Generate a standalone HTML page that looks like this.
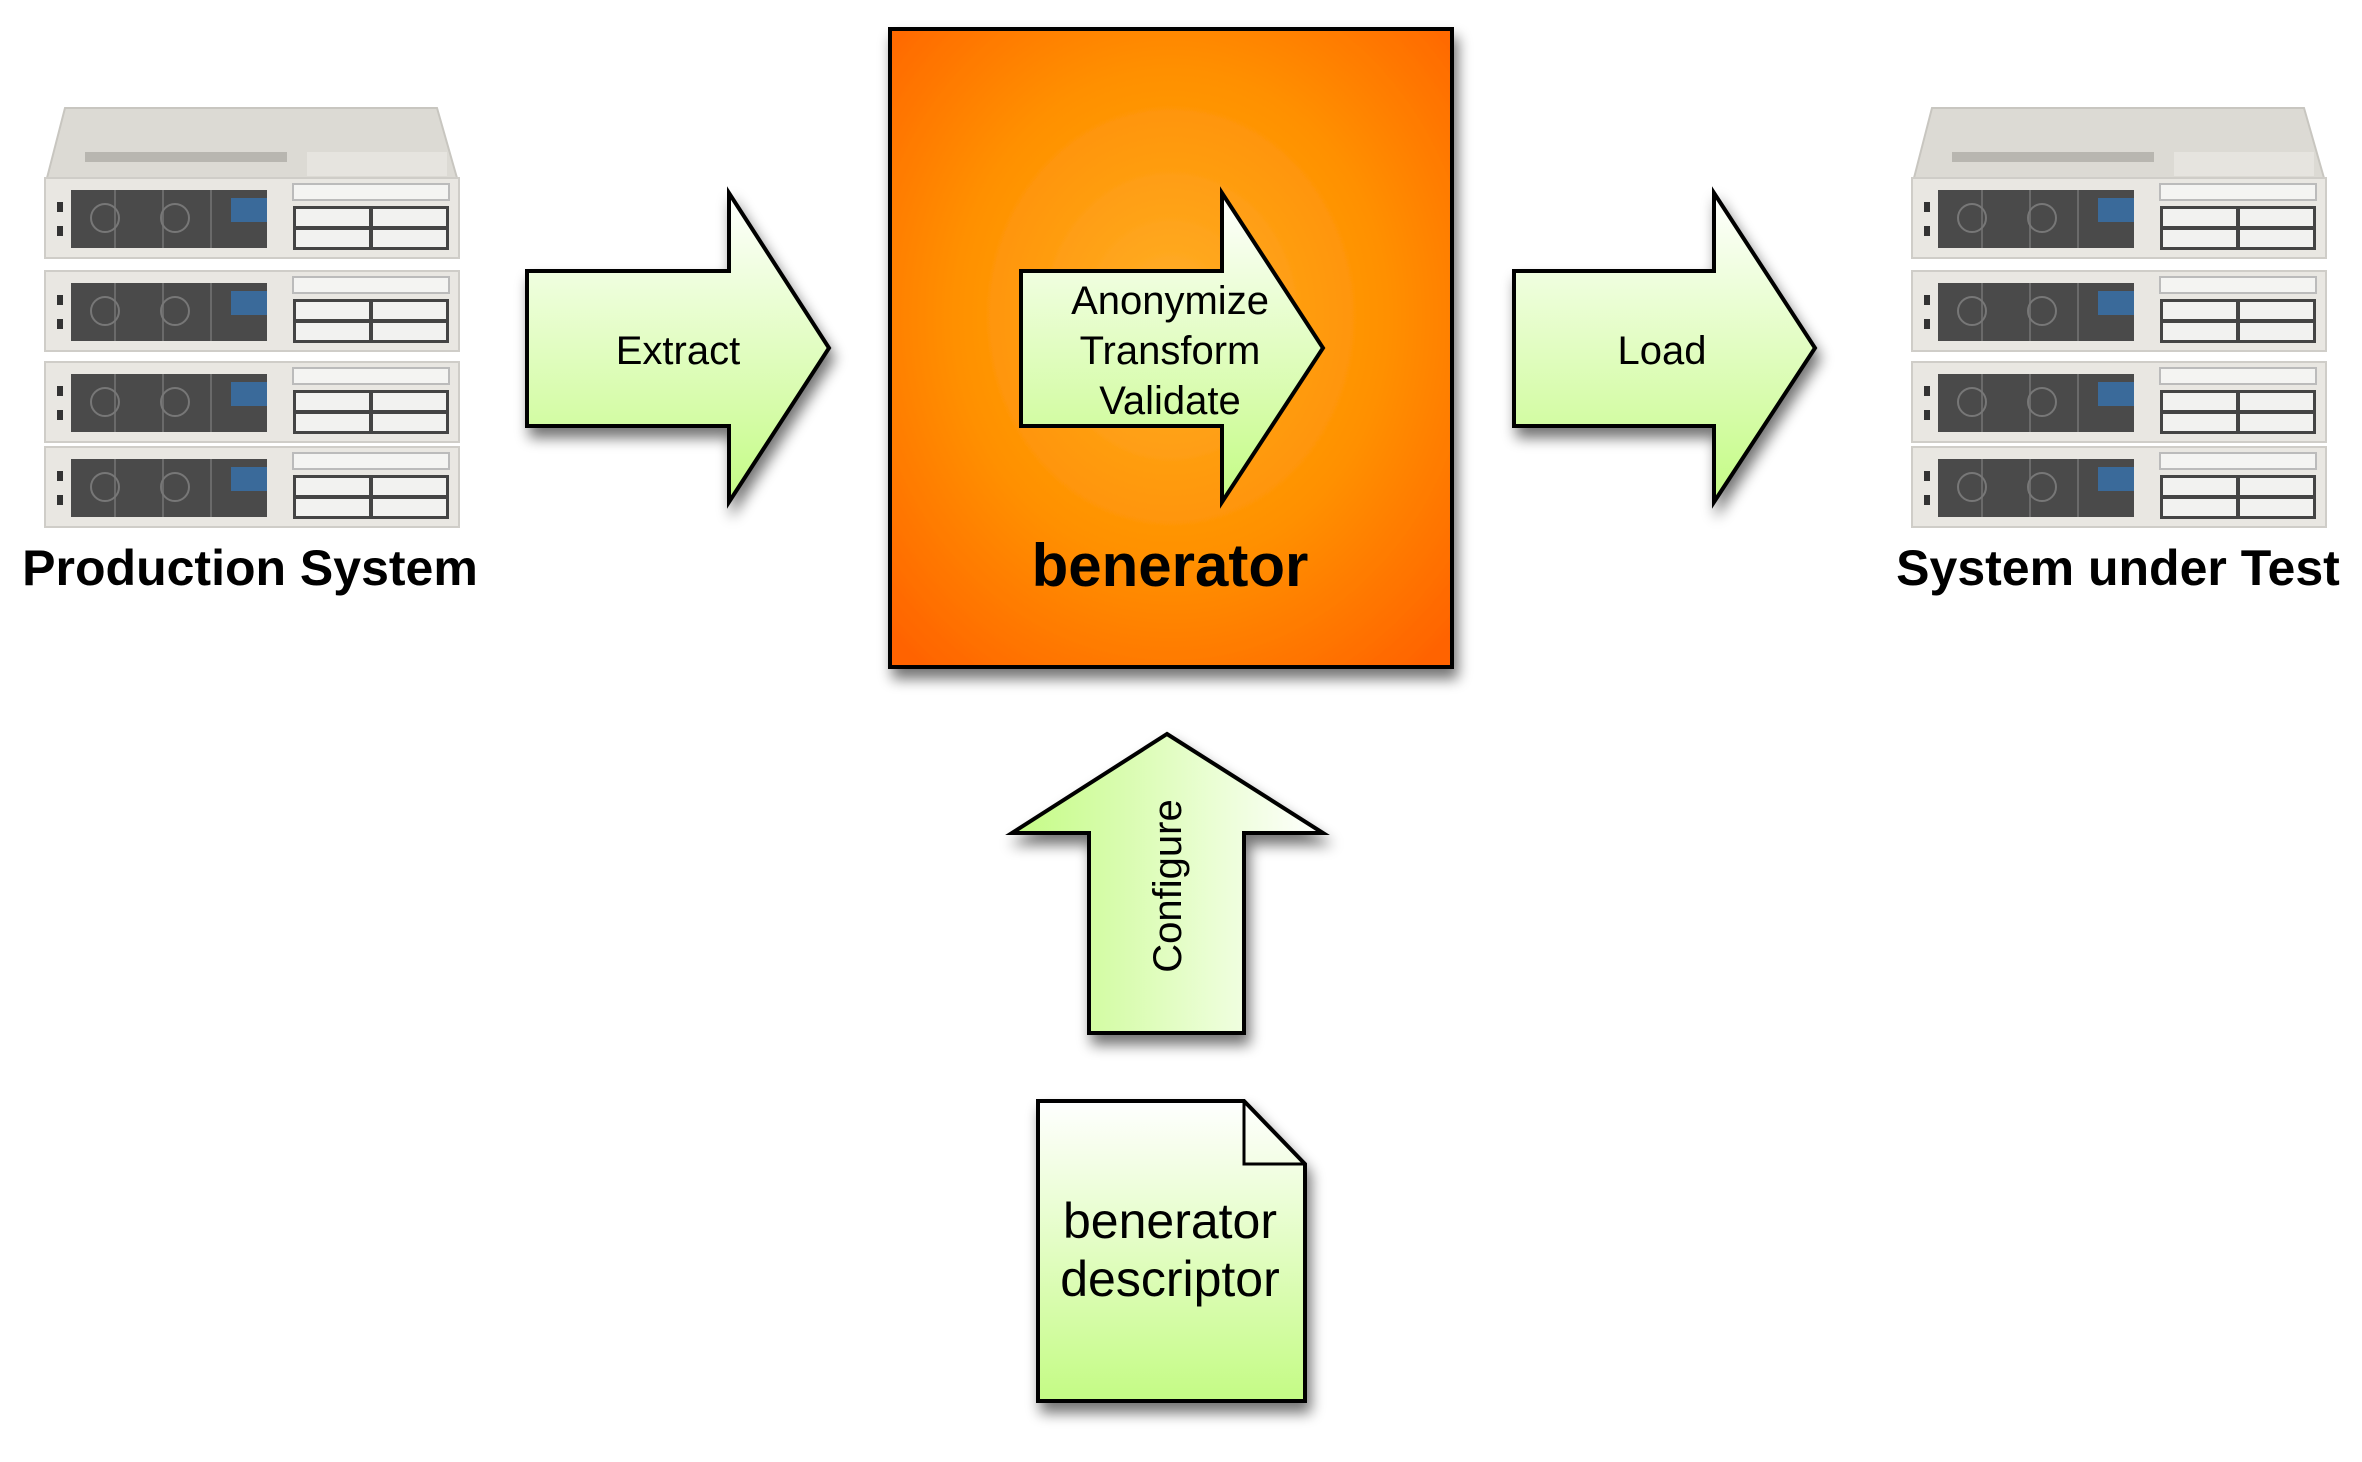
<!DOCTYPE html>
<html><head><meta charset="utf-8"><style>
html,body{margin:0;padding:0;background:#fff;}
svg{display:block;}
text{font-family:"Liberation Sans",Arial,sans-serif;}
</style></head><body>
<svg width="2362" height="1462" viewBox="0 0 2362 1462" xmlns="http://www.w3.org/2000/svg">
<defs>
<radialGradient id="org" cx="50%" cy="45%" r="70%">
<stop offset="0" stop-color="#ffb02a"/><stop offset="0.55" stop-color="#ff9000"/><stop offset="1" stop-color="#ff6400"/>
</radialGradient>
<linearGradient id="grn" x1="0" y1="0" x2="0" y2="1">
<stop offset="0" stop-color="#ffffff"/><stop offset="1" stop-color="#c4fb84"/>
</linearGradient>
<linearGradient id="grnH" x1="0" y1="0" x2="1" y2="0">
<stop offset="0" stop-color="#c4fb84"/><stop offset="1" stop-color="#ffffff"/>
</linearGradient>
<filter id="sh" x="-20%" y="-20%" width="150%" height="150%">
<feGaussianBlur in="SourceAlpha" stdDeviation="7"/><feOffset dx="4" dy="10"/>
<feComponentTransfer><feFuncA type="linear" slope="0.55"/></feComponentTransfer>
<feMerge><feMergeNode/><feMergeNode in="SourceGraphic"/></feMerge>
</filter>
<g id="unit">
<rect x="0" y="0" width="414" height="80" fill="#e9e7e2" stroke="#cfcdc8" stroke-width="2"/>
<rect x="26" y="12" width="196" height="58" fill="#4a4a4a"/>
<g stroke="#6a6a6a" stroke-width="2"><line x1="70" y1="12" x2="70" y2="70"/><line x1="118" y1="12" x2="118" y2="70"/><line x1="166" y1="12" x2="166" y2="70"/></g>
<circle cx="60" cy="40" r="14" fill="none" stroke="#777" stroke-width="2"/>
<circle cx="130" cy="40" r="14" fill="none" stroke="#777" stroke-width="2"/>
<rect x="186" y="20" width="36" height="24" fill="#3a6a9a"/>
<rect x="12" y="24" width="6" height="10" fill="#333"/><rect x="12" y="48" width="6" height="10" fill="#333"/>
<rect x="248" y="6" width="156" height="16" fill="#f4f4f2" stroke="#bbb" stroke-width="2"/>
<rect x="248" y="28" width="156" height="44" fill="#444"/>
<g fill="#f2f2f0"><rect x="251" y="31" width="73" height="17"/><rect x="328" y="31" width="73" height="17"/><rect x="251" y="52" width="73" height="17"/><rect x="328" y="52" width="73" height="17"/></g>
</g>
<g id="server">
<polygon points="20,0 392,0 412,70 2,70" fill="#dcdad4" stroke="#c8c6c0" stroke-width="2"/>
<rect x="40" y="44" width="202" height="10" fill="#b8b6b0"/>
<rect x="262" y="44" width="140" height="24" fill="#e6e4df"/>
<g transform="translate(0,70)"><use href="#unit"/></g>
<g transform="translate(0,163)"><use href="#unit"/></g>
<g transform="translate(0,254)"><use href="#unit"/></g>
<g transform="translate(0,339)"><use href="#unit"/></g>
</g>
</defs>

<use href="#server" transform="translate(45,108)"/>
<use href="#server" transform="translate(1912,108)"/>
<text x="250" y="585" font-size="50" font-weight="bold" text-anchor="middle">Production System</text>
<text x="2118" y="585" font-size="50" font-weight="bold" text-anchor="middle">System under Test</text>

<rect x="890" y="29" width="562" height="638" fill="url(#org)" stroke="#000" stroke-width="4" filter="url(#sh)"/>

<polygon points="527,271 729,271 729,193 829,348 729,502 729,426 527,426" fill="url(#grn)" stroke="#000" stroke-width="4" filter="url(#sh)"/>
<text x="678" y="364" font-size="40" text-anchor="middle">Extract</text>

<polygon points="1021,271 1222,271 1222,193 1323,348 1222,502 1222,426 1021,426" fill="url(#grn)" stroke="#000" stroke-width="4"/>
<text x="1170" y="314" font-size="40" text-anchor="middle">Anonymize</text>
<text x="1170" y="364" font-size="40" text-anchor="middle">Transform</text>
<text x="1170" y="414" font-size="40" text-anchor="middle">Validate</text>
<text x="1170" y="586" font-size="60" font-weight="bold" text-anchor="middle">benerator</text>

<polygon points="1514,271 1714,271 1714,193 1815,348 1714,502 1714,426 1514,426" fill="url(#grn)" stroke="#000" stroke-width="4" filter="url(#sh)"/>
<text x="1662" y="364" font-size="40" text-anchor="middle">Load</text>

<polygon points="1167,734 1323,833 1244,833 1244,1033 1089,1033 1089,833 1012,833" fill="url(#grnH)" stroke="#000" stroke-width="4" filter="url(#sh)"/>
<text transform="translate(1181,886) rotate(-90)" font-size="40" text-anchor="middle">Configure</text>

<polygon points="1038,1101 1244,1101 1305,1164 1305,1401 1038,1401" fill="url(#grn)" stroke="#000" stroke-width="4" filter="url(#sh)"/>
<polyline points="1244,1101 1244,1164 1305,1164" fill="none" stroke="#000" stroke-width="3"/>
<text x="1170" y="1238" font-size="50" text-anchor="middle">benerator</text>
<text x="1170" y="1296" font-size="50" text-anchor="middle">descriptor</text>
</svg>
</body></html>
